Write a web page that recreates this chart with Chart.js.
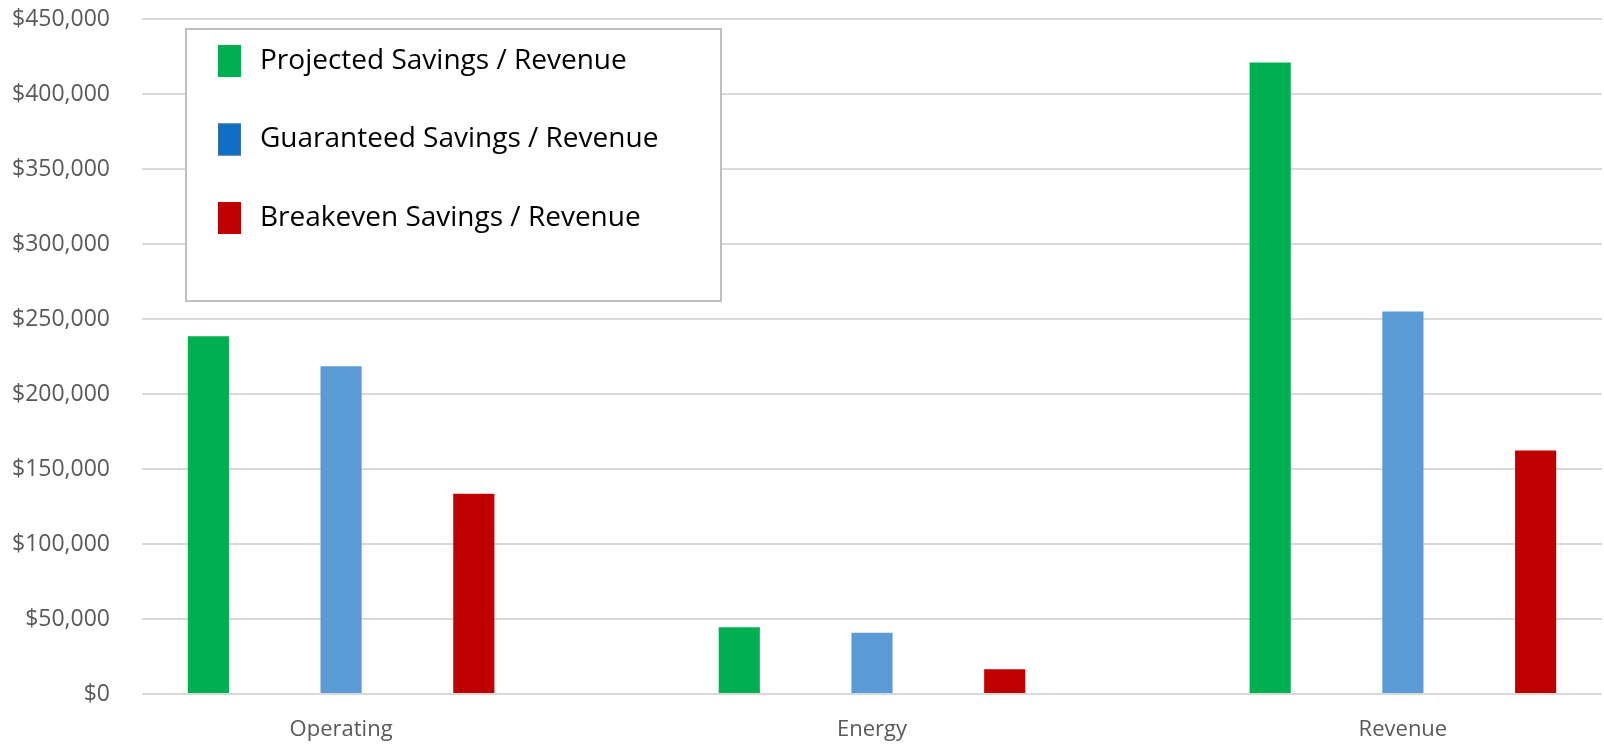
<!DOCTYPE html>
<html>
<head>
<meta charset="utf-8">
<script src="https://cdn.jsdelivr.net/npm/chart.js@4.4.1/dist/chart.umd.min.js"></script>
<style>
  html, body { margin: 0; padding: 0; background: #fff; }
  #wrap { width: 1604px; height: 744px; }
</style>
</head>
<body>
<div id="wrap"><canvas id="myChart" width="1604" height="744"></canvas></div>
<script>
const categories = ['Operating', 'Energy', 'Revenue'];
const seriesNames = ['Projected Savings / Revenue', 'Guaranteed Savings / Revenue', 'Breakeven Savings / Revenue'];
const projected = [238500, 44500, 421000];
const guaranteed = [218500, 40800, 255000];
const breakeven = [133500, 16500, 162300];
const yTicks = [0, 50000, 100000, 150000, 200000, 250000, 300000, 350000, 400000, 450000];

const barColors = ['#00b050', '#5b9bd5', '#c00000'];
const legendColors = ['#00b050', '#0f6fc6', '#c00000'];
const legendBorders = ['#00b050', '#41719c', '#c00000'];

const FONT = "'Open Sans', 'Liberation Sans', sans-serif";

const toPoints = arr => arr.map((v, i) => ({ x: i, y: v }));

// legend drawn inside the plot, boxed, like the Excel one
const boxLegend = {
  id: 'boxLegend',
  afterDraw(chart) {
    const c = chart.ctx;
    const area = chart.chartArea;
    const x0 = area.left + 44, y0 = area.top + 10;
    c.save();
    c.fillStyle = '#fff';
    c.fillRect(x0, y0, 535, 272);
    c.strokeStyle = '#bfbfbf';
    c.lineWidth = 2;
    c.strokeRect(x0, y0, 535, 272);
    c.font = "28px " + FONT;
    c.textBaseline = 'middle';
    chart.data.datasets.forEach((ds, i) => {
      const cy = y0 + 32 + i * 78.5;
      c.fillStyle = legendColors[i];
      c.fillRect(x0 + 32, cy - 16, 23, 32);
      c.strokeStyle = legendBorders[i];
      c.lineWidth = 1;
      c.strokeRect(x0 + 32.5, cy - 15.5, 22, 31);
      c.fillStyle = '#000';
      c.fillText(ds.label, x0 + 74, cy);
    });
    c.restore();
  }
};

const ctx = document.getElementById('myChart');

let myChart = new Chart(ctx, {
  type: 'bar',
  data: {
    datasets: [
      { label: seriesNames[0], data: toPoints(projected), backgroundColor: barColors[0] },
      { label: seriesNames[1], data: toPoints(guaranteed), backgroundColor: barColors[1] },
      { label: seriesNames[2], data: toPoints(breakeven), backgroundColor: barColors[2] }
    ]
  },
  options: {
    responsive: false,
    animation: false,
    layout: { padding: { top: 19, right: 2, bottom: 3, left: 0 } },
    datasets: {
      bar: { categoryPercentage: 0.75, barPercentage: 0.31 }
    },
    plugins: {
      legend: { display: false },
      tooltip: { enabled: false }
    },
    scales: {
      x: {
        type: 'linear',
        offset: false,
        min: -0.375,
        max: 2.375,
        afterFit: scale => {
          scale.height = 47;
          scale.paddingLeft = 0; scale.paddingRight = 0;
        },
        grid: { display: false, offset: false },
        border: { display: false },
        ticks: {
          stepSize: 1,
          includeBounds: false,
          autoSkip: false,
          maxRotation: 0,
          padding: 15,
          color: '#595959',
          font: { family: FONT, size: 22 },
          callback: v => categories[v] ?? ''
        }
      },
      y: {
        min: 0,
        max: 450000,
        afterBuildTicks: scale => { scale.ticks = yTicks.map(v => ({ value: v })); },
        afterFit: scale => {
          scale.width = 142;
          scale.paddingTop = 0; scale.paddingBottom = 0;
        },
        grid: { color: '#d9d9d9', lineWidth: 2, drawTicks: false },
        border: { display: false },
        ticks: {
          padding: 32,
          color: '#595959',
          font: { family: FONT, size: 23 },
          callback: v => '$' + v.toLocaleString('en-US')
        }
      }
    }
  },
  plugins: [boxLegend]
});
</script>
</body>
</html>
